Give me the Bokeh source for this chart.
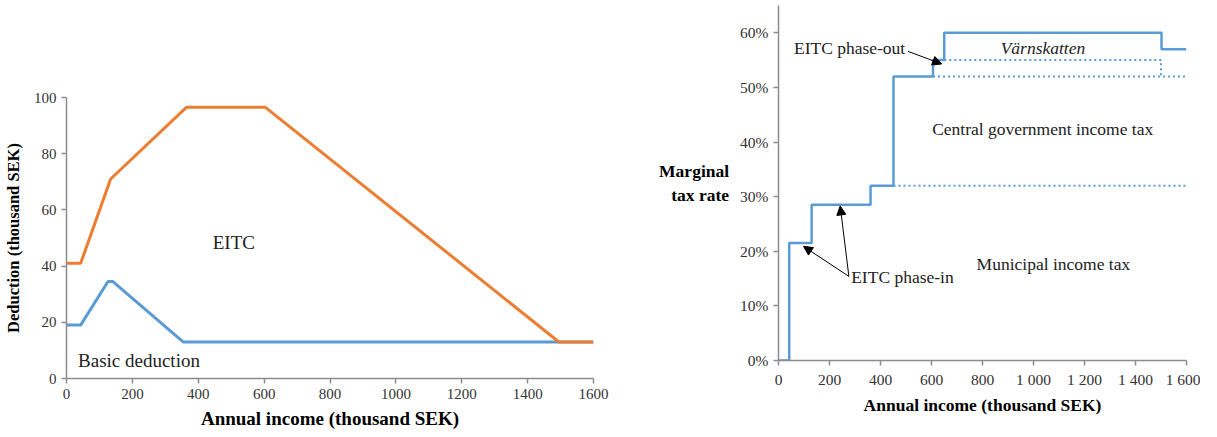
from bokeh.plotting import figure
from bokeh.layouts import row, column
from bokeh.models import Range1d, FixedTicker, Label, Arrow, NormalHead
from bokeh.embed import file_html
from bokeh.resources import INLINE

# ---------------- data ----------------
# Left chart: deductions (thousand SEK) by annual income (thousand SEK)
basic_x = [0, 43, 126, 141, 354, 1600]
basic_y = [19, 19, 34.5, 34.5, 13, 13]
eitc_x = [0, 43, 134, 364, 604, 1495, 1600]
eitc_y = [41, 41, 71, 96.5, 96.5, 13, 13]
left_xticks = [0, 200, 400, 600, 800, 1000, 1200, 1400, 1600]
left_yticks = [0, 20, 40, 60, 80, 100]

# Right chart: marginal tax rate (%) step function
mtr_x = [0, 42, 130, 361, 451, 606, 650, 1502, 1600]
mtr_y = [0, 21.5, 28.5, 32, 52, 55, 60, 57, 57]
# dotted component boundaries
muni_x = [451, 1600]
muni_y = [32, 32]
central_x = [606, 1600]
central_y = [52, 52]
phaseout_x = [650, 1500, 1500]
phaseout_y = [55, 55, 52]
right_xticks = [0, 200, 400, 600, 800, 1000, 1200, 1400, 1600]
right_xlabels = ["0", "200", "400", "600", "800", "1 000", "1 200", "1 400", "1 600"]
right_yticks = [0, 10, 20, 30, 40, 50, 60]
right_ylabels = ["0%", "10%", "20%", "30%", "40%", "50%", "60%"]

FONT = "Liberation Serif"
AXIS_COLOR = "#8c8c8c"
BLUE = "#5B9BD5"
ORANGE = "#ED7D31"


def style_axes(p, tick_size, label_size):
    for ax in (p.xaxis, p.yaxis):
        ax.axis_line_color = AXIS_COLOR
        ax.axis_line_width = 1.5
        ax.major_tick_line_color = AXIS_COLOR
        ax.major_tick_line_width = 1.5
        ax.major_tick_in = 0
        ax.major_tick_out = 5
        ax.minor_tick_line_color = None
        ax.major_label_text_font = FONT
        ax.major_label_text_font_size = tick_size
        ax.major_label_text_color = "#333333"
        ax.axis_label_text_font = FONT
        ax.axis_label_text_font_size = label_size
        ax.axis_label_text_font_style = "bold"
        ax.axis_label_text_color = "black"
    p.grid.visible = False
    p.outline_line_color = None


# ---------------- left figure ----------------
p1 = figure(frame_width=527, frame_height=281, output_backend="svg",
            toolbar_location=None, x_range=Range1d(0, 1600), y_range=Range1d(0, 100),
            min_border_left=64, min_border_top=97, min_border_right=58, min_border_bottom=50)
style_axes(p1, "15px", "19px")
p1.yaxis.axis_label_text_font_size = "16.5px"
p1.xaxis.ticker = FixedTicker(ticks=left_xticks)
p1.yaxis.ticker = FixedTicker(ticks=left_yticks)
p1.xaxis.axis_label = "Annual income (thousand SEK)"
p1.yaxis.axis_label = "Deduction (thousand SEK)"
p1.xaxis.axis_label_standoff = 6
p1.yaxis.axis_label_standoff = 8

p1.line(basic_x, basic_y, line_color=BLUE, line_width=3)
p1.line(eitc_x, eitc_y, line_color=ORANGE, line_width=3)

p1.add_layout(Label(x=508, y=48.4, text="EITC", text_font=FONT, text_font_size="19px",
                    text_align="center", text_baseline="middle", text_color="#222222"))
p1.add_layout(Label(x=35, y=6.5, text="Basic deduction", text_font=FONT, text_font_size="19px",
                    text_align="left", text_baseline="middle", text_color="#222222"))

# ---------------- right figure ----------------
p2 = figure(frame_width=408, frame_height=355, output_backend="svg",
            toolbar_location=None, x_range=Range1d(0, 1600), y_range=Range1d(0, 65),
            min_border_left=127, min_border_top=5, min_border_right=14, min_border_bottom=55)
style_axes(p2, "15.5px", "17.5px")
p2.xaxis.ticker = FixedTicker(ticks=right_xticks)
p2.xaxis.major_label_overrides = dict(zip(right_xticks, right_xlabels))
p2.yaxis.ticker = FixedTicker(ticks=right_yticks)
p2.yaxis.major_label_overrides = dict(zip(right_yticks, right_ylabels))
p2.xaxis.axis_label = "Annual income (thousand SEK)"
p2.yaxis.axis_label = "Marginal\ntax rate"
p2.yaxis.axis_label_orientation = "horizontal"
p2.xaxis.axis_label_standoff = 4
p2.yaxis.axis_label_standoff = 8

p2.line(muni_x, muni_y, line_color=BLUE, line_width=2, line_dash="2 3")
p2.line(central_x, central_y, line_color=BLUE, line_width=2, line_dash="2 3")
p2.line(phaseout_x, phaseout_y, line_color=BLUE, line_width=2, line_dash="2 3")
p2.step(mtr_x, mtr_y, mode="after", line_color=BLUE, line_width=2.5)

lab = dict(text_font=FONT, text_font_size="17.5px", text_baseline="middle", text_color="#222222")
p2.add_layout(Label(x=1037, y=57.3, text="Värnskatten", text_align="center",
                    text_font_style="italic", **lab))
p2.add_layout(Label(x=1036, y=42.3, text="Central government income tax", text_align="center", **lab))
p2.add_layout(Label(x=1078, y=17.7, text="Municipal income tax", text_align="center", **lab))
p2.add_layout(Label(x=497, y=57.3, text="EITC phase-out", text_align="right", **lab))
p2.add_layout(Label(x=285, y=15.3, text="EITC phase-in", text_align="left", **lab))

head = dict(size=9, fill_color="black", line_color="black")
p2.add_layout(Arrow(end=NormalHead(**head), x_start=508, y_start=56.6, x_end=640, y_end=54.3,
                    line_width=1, line_color="black"))
p2.add_layout(Arrow(end=NormalHead(**head), x_start=276, y_start=15.4, x_end=98, y_end=20.9,
                    line_width=1, line_color="black"))
p2.add_layout(Arrow(end=NormalHead(**head), x_start=276, y_start=15.4, x_end=242, y_end=28.3,
                    line_width=1, line_color="black"))

layout = row(column(p1), column(p2))
open("out.html", "w").write(file_html(layout, INLINE))
